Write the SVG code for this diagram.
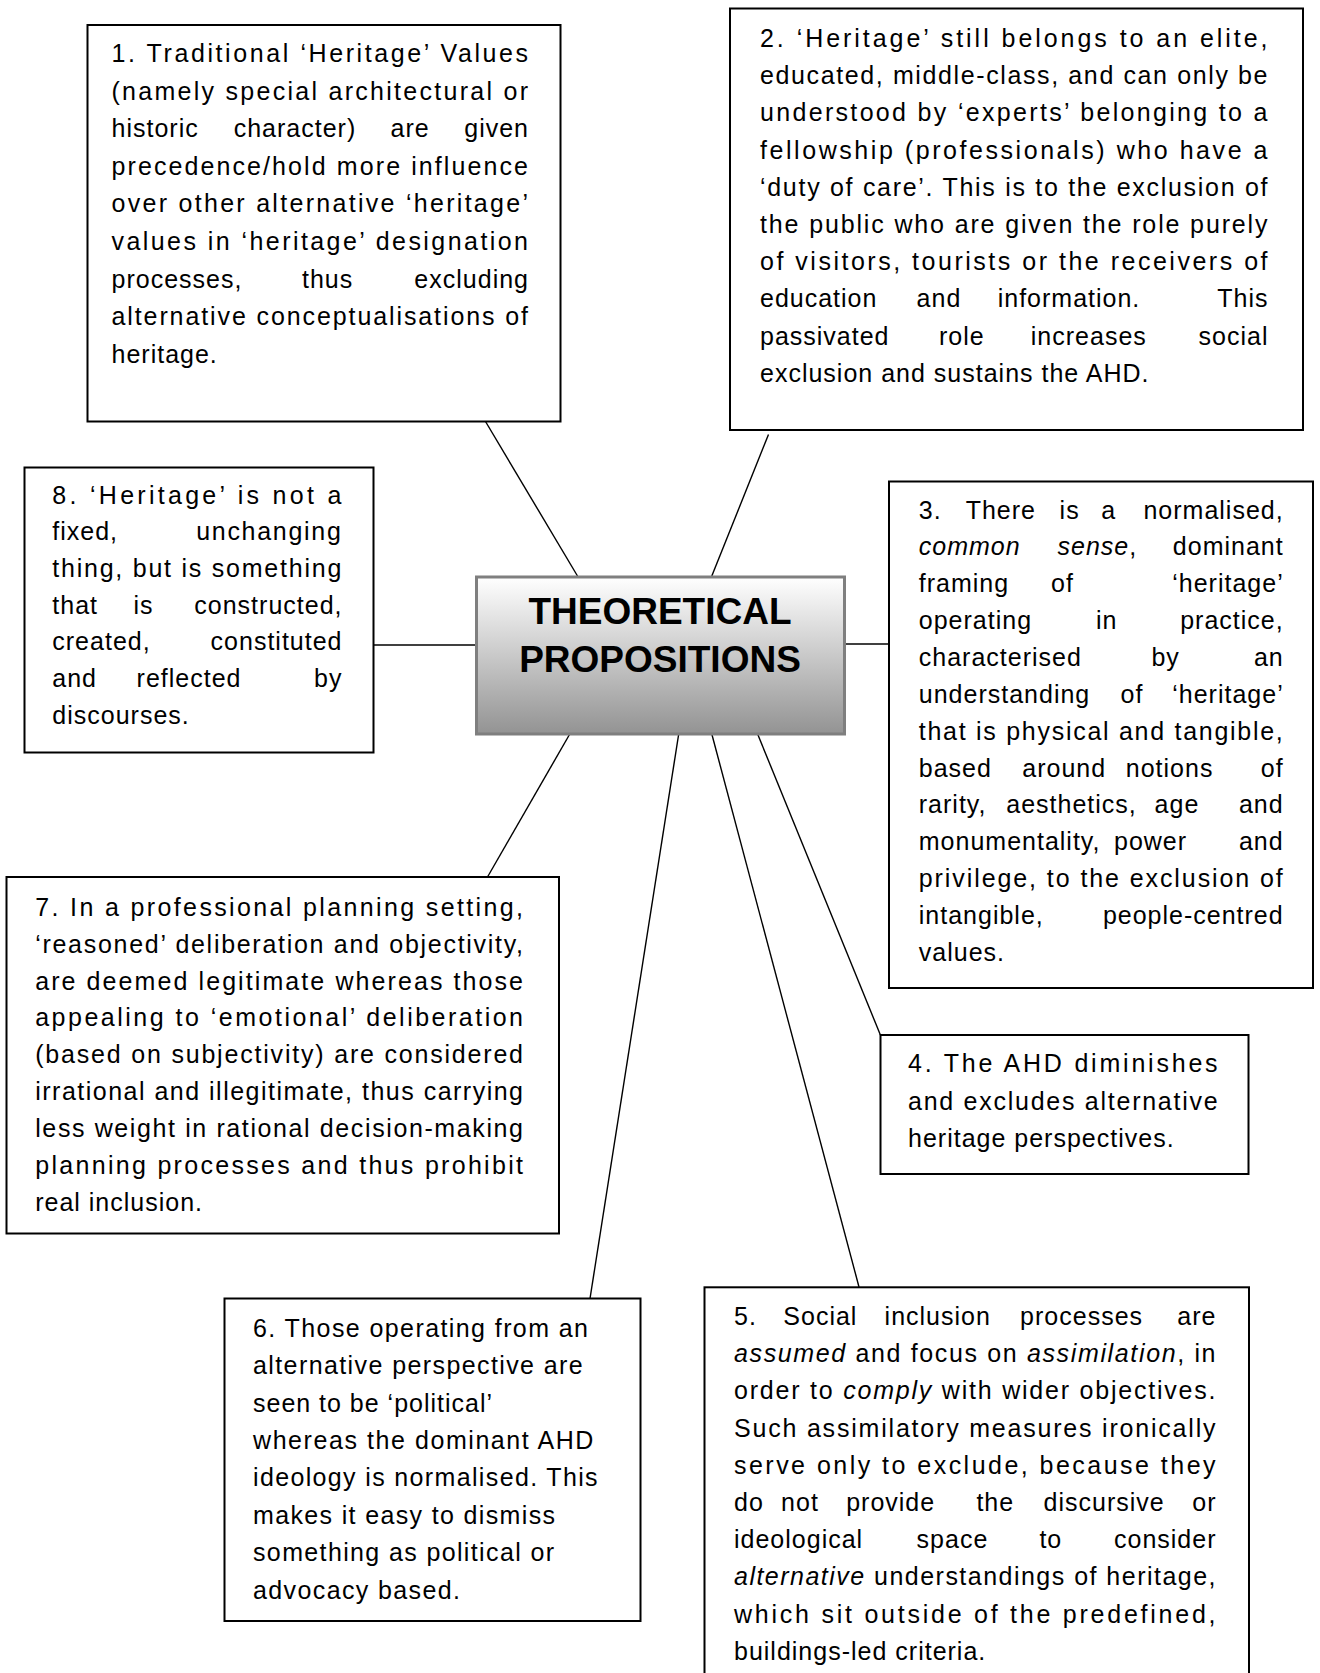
<svg xmlns="http://www.w3.org/2000/svg" width="1320" height="1673" viewBox="0 0 1320 1673">
<defs>
<linearGradient id="g" x1="0" y1="0" x2="0" y2="1">
<stop offset="0" stop-color="#ffffff"/>
<stop offset="1" stop-color="#939393"/>
</linearGradient>
<style>
.box{fill:#fff;stroke:#000;stroke-width:2}
.t{font-family:"Liberation Sans",Arial,sans-serif;font-size:25px;fill:#000;letter-spacing:1px}
.i{font-style:italic}
.c line{stroke:#000;stroke-width:1.4}
.title{font-family:"Liberation Sans",Arial,sans-serif;font-size:37px;font-weight:bold;fill:#000;text-anchor:middle}
.e{text-anchor:end}
</style>
</defs>
<rect width="1320" height="1673" fill="#fff"/>
<g class="c" id="connectors">
<line x1="485.5" y1="421.5" x2="577.5" y2="576"/>
<line x1="768.5" y1="434.5" x2="711.8" y2="576"/>
<line x1="373.5" y1="645" x2="476" y2="645"/>
<line x1="844" y1="644" x2="889" y2="644"/>
<line x1="569.8" y1="734" x2="487.5" y2="877"/>
<line x1="678.7" y1="734" x2="590" y2="1298.6"/>
<line x1="711.8" y1="734" x2="859" y2="1287"/>
<line x1="757.6" y1="734" x2="880.4" y2="1035"/>
</g>
<g id="center">
<rect x="476.5" y="577" width="368" height="157" fill="url(#g)" stroke="#7f7f7f" stroke-width="3"/>
<text class="title" x="660" y="623.5">THEORETICAL</text>
<text class="title" x="660" y="672">PROPOSITIONS</text>
</g>
<g id="n1">
<rect class="box" x="87.5" y="25" width="473" height="396.5"/>
<text class="t" x="111.5" y="62" textLength="417.5" lengthAdjust="spacing">1. Traditional ‘Heritage’ Values</text>
<text class="t" x="111.5" y="99.6" textLength="417.5" lengthAdjust="spacing">(namely special architectural or</text>
<text class="t" y="137.2"><tspan x="111.5">historic</tspan><tspan x="233.7">character)</tspan><tspan x="390.6">are</tspan><tspan x="529" class="e">given</tspan></text>
<text class="t" x="111.5" y="174.8" textLength="417.5" lengthAdjust="spacing">precedence/hold more influence</text>
<text class="t" x="111.5" y="212.4" textLength="417.5" lengthAdjust="spacing">over other alternative ‘heritage’</text>
<text class="t" x="111.5" y="250" textLength="417.5" lengthAdjust="spacing">values in ‘heritage’ designation</text>
<text class="t" y="287.6"><tspan x="111.5">processes,</tspan><tspan x="302">thus</tspan><tspan x="529" class="e">excluding</tspan></text>
<text class="t" x="111.5" y="325.2" textLength="417.5" lengthAdjust="spacing">alternative conceptualisations of</text>
<text class="t" x="111.5" y="362.8">heritage.</text>
</g>
<g id="n2">
<rect class="box" x="730" y="8.5" width="573" height="421.5"/>
<text class="t" x="760" y="47" textLength="508.5" lengthAdjust="spacing">2. ‘Heritage’ still belongs to an elite,</text>
<text class="t" x="760" y="84.2" textLength="508.5" lengthAdjust="spacing">educated, middle-class, and can only be</text>
<text class="t" x="760" y="121.4" textLength="508.5" lengthAdjust="spacing">understood by ‘experts’ belonging to a</text>
<text class="t" x="760" y="158.6" textLength="508.5" lengthAdjust="spacing">fellowship (professionals) who have a</text>
<text class="t" x="760" y="195.8" textLength="508.5" lengthAdjust="spacing">‘duty of care’.  This is to the exclusion of</text>
<text class="t" x="760" y="233" textLength="508.5" lengthAdjust="spacing">the public who are given the role purely</text>
<text class="t" x="760" y="270.2" textLength="508.5" lengthAdjust="spacing">of visitors, tourists or the receivers of</text>
<text class="t" y="307.4"><tspan x="760">education</tspan><tspan x="916.6">and</tspan><tspan x="997.7">information.</tspan><tspan x="1268.5" class="e">This</tspan></text>
<text class="t" y="344.6"><tspan x="760">passivated</tspan><tspan x="939">role</tspan><tspan x="1030.8">increases</tspan><tspan x="1268.5" class="e">social</tspan></text>
<text class="t" x="760" y="381.8">exclusion and sustains the AHD.</text>
</g>
<g id="n8">
<rect class="box" x="24.5" y="467.5" width="349" height="285"/>
<text class="t" x="52.3" y="503.5" textLength="290" lengthAdjust="spacing">8. ‘Heritage’ is not a</text>
<text class="t" y="540.2"><tspan x="52.3">fixed,</tspan><tspan x="342.5" class="e" style="letter-spacing:1.7px">unchanging</tspan></text>
<text class="t" x="52.3" y="576.9" textLength="290" lengthAdjust="spacing">thing, but is something</text>
<text class="t" y="613.6"><tspan x="52.3">that</tspan><tspan x="133.4">is</tspan><tspan x="342.5" class="e">constructed,</tspan></text>
<text class="t" y="650.3"><tspan x="52.3">created,</tspan><tspan x="342.5" class="e">constituted</tspan></text>
<text class="t" y="687"><tspan x="52.3">and</tspan><tspan x="136.6">reflected</tspan><tspan x="342.5" class="e">by</tspan></text>
<text class="t" x="52.3" y="723.7">discourses.</text>
</g>
<g id="n3">
<rect class="box" x="889" y="481.5" width="424" height="506.5"/>
<text class="t" y="518.5"><tspan x="918.8">3.</tspan><tspan x="965.7">There</tspan><tspan x="1059.6">is</tspan><tspan x="1101.3">a</tspan><tspan x="1283.7" class="e">normalised,</tspan></text>
<text class="t" y="555.4"><tspan x="918.8" class="i">common</tspan><tspan x="1057.5" class="i">sense</tspan>,<tspan x="1283.7" class="e">dominant</tspan></text>
<text class="t" y="592.2"><tspan x="918.8">framing</tspan><tspan x="1051.1">of</tspan><tspan x="1283.7" class="e">‘heritage’</tspan></text>
<text class="t" y="629.1"><tspan x="918.8">operating</tspan><tspan x="1095.9">in</tspan><tspan x="1283.7" class="e">practice,</tspan></text>
<text class="t" y="665.9"><tspan x="918.8">characterised</tspan><tspan x="1151.4">by</tspan><tspan x="1283.7" class="e">an</tspan></text>
<text class="t" y="702.8"><tspan x="918.8">understanding</tspan><tspan x="1120.5">of</tspan><tspan x="1283.7" class="e">‘heritage’</tspan></text>
<text class="t" x="918.8" y="739.6" textLength="365" lengthAdjust="spacing">that is physical and tangible,</text>
<text class="t" y="776.5"><tspan x="918.8">based</tspan><tspan x="1022.3">around</tspan><tspan x="1125.8">notions</tspan><tspan x="1283.7" class="e">of</tspan></text>
<text class="t" y="813.3"><tspan x="918.8">rarity,</tspan><tspan x="1006.3">aesthetics,</tspan><tspan x="1154.6">age</tspan><tspan x="1283.7" class="e">and</tspan></text>
<text class="t" y="850.2"><tspan x="918.8">monumentality,</tspan><tspan x="1114">power</tspan><tspan x="1283.7" class="e">and</tspan></text>
<text class="t" x="918.8" y="887" textLength="365" lengthAdjust="spacing">privilege, to the exclusion of</text>
<text class="t" y="923.9"><tspan x="918.8">intangible,</tspan><tspan x="1283.7" class="e">people-centred</tspan></text>
<text class="t" x="918.8" y="960.7">values.</text>
</g>
<g id="n4">
<rect class="box" x="880.5" y="1035" width="368" height="139"/>
<text class="t" x="908" y="1072.4" textLength="310.6" lengthAdjust="spacing">4. The AHD diminishes</text>
<text class="t" x="908" y="1109.5" textLength="310.6" lengthAdjust="spacing">and excludes alternative</text>
<text class="t" x="908" y="1146.5">heritage perspectives.</text>
</g>
<g id="n7">
<rect class="box" x="6.5" y="877" width="552.5" height="356.5"/>
<text class="t" x="35.2" y="915.7" textLength="488.8" lengthAdjust="spacing">7. In a professional planning setting,</text>
<text class="t" x="35.2" y="952.6" textLength="488.8" lengthAdjust="spacing">‘reasoned’ deliberation and objectivity,</text>
<text class="t" x="35.2" y="989.5" textLength="488.8" lengthAdjust="spacing">are deemed legitimate whereas those</text>
<text class="t" x="35.2" y="1026.4" textLength="488.8" lengthAdjust="spacing">appealing to ‘emotional’ deliberation</text>
<text class="t" x="35.2" y="1063.3" textLength="488.8" lengthAdjust="spacing">(based on subjectivity) are considered</text>
<text class="t" x="35.2" y="1100.2" textLength="488.8" lengthAdjust="spacing">irrational and illegitimate, thus carrying</text>
<text class="t" x="35.2" y="1137.1" textLength="488.8" lengthAdjust="spacing">less weight in rational decision-making</text>
<text class="t" x="35.2" y="1174" textLength="488.8" lengthAdjust="spacing">planning processes and thus prohibit</text>
<text class="t" x="35.2" y="1210.9">real inclusion.</text>
</g>
<g id="n6">
<rect class="box" x="224.5" y="1298.5" width="416" height="322.5"/>
<text class="t" x="253" y="1336.7" textLength="336" lengthAdjust="spacing">6. Those operating from an</text>
<text class="t" x="253" y="1374.1" textLength="330.7" lengthAdjust="spacing">alternative perspective are</text>
<text class="t" x="253" y="1411.5" textLength="240" lengthAdjust="spacing">seen to be ‘political’</text>
<text class="t" x="253" y="1448.9" textLength="341.4" lengthAdjust="spacing">whereas the dominant AHD</text>
<text class="t" x="253" y="1486.3" textLength="345.6" lengthAdjust="spacing">ideology is normalised.  This</text>
<text class="t" x="253" y="1523.7" textLength="303" lengthAdjust="spacing">makes it easy to dismiss</text>
<text class="t" x="253" y="1561.1" textLength="302" lengthAdjust="spacing">something as political or</text>
<text class="t" x="253" y="1598.5" textLength="208" lengthAdjust="spacing">advocacy based.</text>
</g>
<g id="n5">
<rect class="box" x="704.5" y="1287.3" width="544.5" height="400"/>
<text class="t" y="1325"><tspan x="734">5.</tspan><tspan x="783.3">Social</tspan><tspan x="884.6">inclusion</tspan><tspan x="1020.1">processes</tspan><tspan x="1216.5" class="e">are</tspan></text>
<text class="t" x="734" y="1362.2" textLength="482.5" lengthAdjust="spacing"><tspan class="i">assumed</tspan> and focus on <tspan class="i">assimilation</tspan>, in</text>
<text class="t" x="734" y="1399.4" textLength="482.5" lengthAdjust="spacing">order to <tspan class="i">comply</tspan> with wider objectives.</text>
<text class="t" x="734" y="1436.6" textLength="482.5" lengthAdjust="spacing">Such assimilatory measures ironically</text>
<text class="t" x="734" y="1473.8" textLength="482.5" lengthAdjust="spacing">serve only to exclude, because they</text>
<text class="t" y="1511"><tspan x="734">do</tspan><tspan x="781.1">not</tspan><tspan x="846.2">provide</tspan><tspan x="976.4">the</tspan><tspan x="1043.6">discursive</tspan><tspan x="1216.5" class="e">or</tspan></text>
<text class="t" y="1548.2"><tspan x="734">ideological</tspan><tspan x="916.6">space</tspan><tspan x="1039.4">to</tspan><tspan x="1216.5" class="e">consider</tspan></text>
<text class="t" x="734" y="1585.4" textLength="482.5" lengthAdjust="spacing"><tspan class="i">alternative</tspan> understandings of heritage,</text>
<text class="t" x="734" y="1622.6" textLength="482.5" lengthAdjust="spacing">which sit outside of the predefined,</text>
<text class="t" x="734" y="1659.8">buildings-led  criteria.</text>
</g>
</svg>
